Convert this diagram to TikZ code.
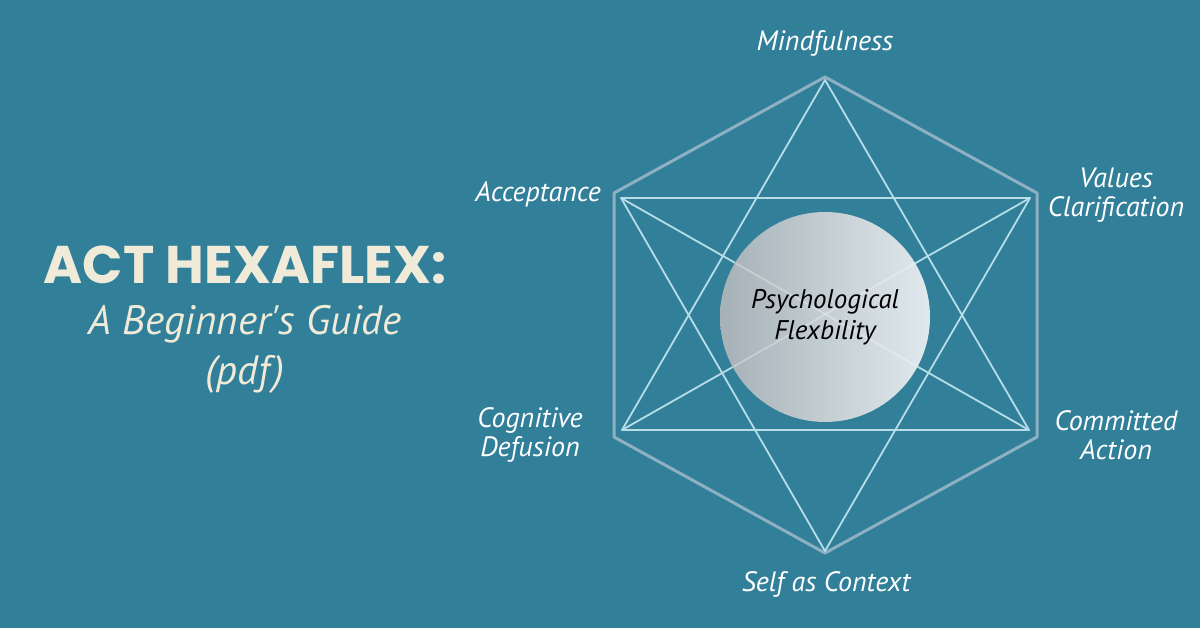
\documentclass[tikz,border=0pt]{standalone}
\usepackage{fontspec}
\setmainfont{Poppins}
\newfontfamily\handfont{PT Sans}
\usetikzlibrary{positioning}
\definecolor{bgteal}{HTML}{327F99}
\definecolor{cream}{HTML}{F0EBD8}
\definecolor{hexline}{HTML}{8DB1C3}
\definecolor{starline}{HTML}{B7DDE8}
\definecolor{hubleft}{HTML}{A6B1B7}
\definecolor{hubright}{HTML}{E0EAEE}
\tikzset{hexside/.style={draw=hexline,line width=3pt,line join=round},
         starside/.style={draw=starline,line width=1.8pt,line join=round},
         corner/.style={font=\handfont\itshape\fontsize{28}{29}\selectfont,text=white,align=center,inner sep=0pt},
         hub/.style={circle,minimum size=210pt,inner sep=0pt,left color=hubleft,right color=hubright},
         }
\begin{document}
\begin{tikzpicture}[x=1pt,y=-1pt]
\fill[bgteal] (0,0) rectangle (1200,628);
\useasboundingbox (0,0) rectangle (1200,628);
% title
\node[text=cream,font=\bfseries\fontsize{53}{54}\selectfont,anchor=base] (title) at (245,284) {ACT HEXAFLEX:};
\node[text=cream,font=\handfont\itshape\fontsize{41}{50}\selectfont,align=center,anchor=north] (subtitle) at (245,302) {A Beginner's Guide\\(pdf)};
% outer hexagon
\coordinate (ht) at (825,77);
\coordinate (hur) at (1037,193);
\coordinate (hlr) at (1037,437);
\coordinate (hb) at (825,553);
\coordinate (hll) at (614,437);
\coordinate (hul) at (614,193);
\draw[hexside] (ht) -- (hur) -- (hlr) -- (hb) -- (hll) -- (hul) -- cycle;
% inner star
\coordinate (st) at (825,80);
\coordinate (sur) at (1030,198);
\coordinate (slr) at (1029,430);
\coordinate (sb) at (825,551);
\coordinate (sll) at (622,430);
\coordinate (sul) at (621,198);
\draw[starside] (st) -- (slr) -- (sll) -- cycle;
\draw[starside] (sb) -- (sul) -- (sur) -- cycle;
\draw[starside] (sul) -- (slr);
\draw[starside] (sur) -- (sll);
% centre
\node[hub] (psy) at (825,317) {};
\begin{scope}
\clip (825,317) circle (104pt);
\draw[white,opacity=0.3,line width=1.8pt] (sul) -- (slr);
\draw[white,opacity=0.3,line width=1.8pt] (sur) -- (sll);
\end{scope}
\node[font=\handfont\itshape\fontsize{27}{31}\selectfont,align=center] (psytext) at (psy) {Psychological\\Flexbility};
% labels
\node[corner] (mind) at (825,43) {Mindfulness};
\node[corner,anchor=east] (acc) at (601,194) {Acceptance};
\node[corner] (val) at (1116,195) {Values\\Clarification};
\node[corner] (cog) at (530,435) {Cognitive\\Defusion};
\node[corner] (com) at (1116,435) {Committed\\Action};
\node[corner] (self) at (826,584) {Self as Context};
\end{tikzpicture}
\end{document}
